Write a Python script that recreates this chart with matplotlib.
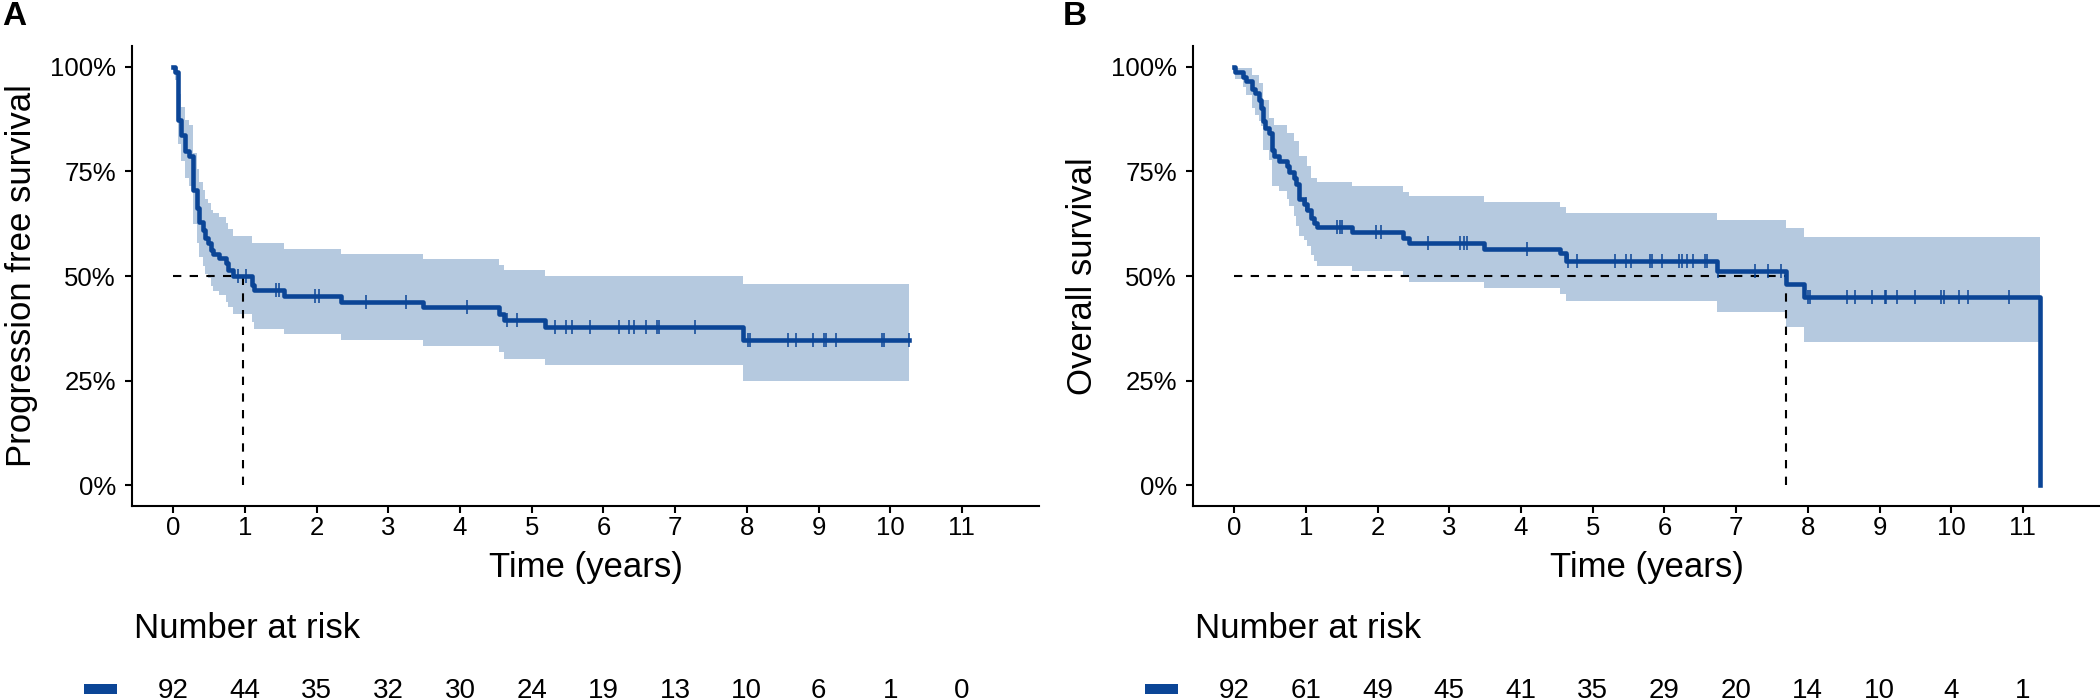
import numpy as np
import matplotlib.pyplot as plt
import matplotlib.transforms as mtransforms
from matplotlib.patches import Rectangle
from matplotlib.ticker import PercentFormatter

plt.rcParams['font.family'] = ['Liberation Sans', 'DejaVu Sans']

BLUE = '#0b4596'
BAND = '#b5c9df'

# Progression free survival: step times (years), survival, 95% CI (%)
pfs_time = [0, 0.02, 0.06, 0.107, 0.167, 0.22, 0.27, 0.33, 0.36, 0.41, 0.45, 0.48, 0.52,
            0.55, 0.64, 0.73, 0.76, 0.84, 1.1, 1.13, 1.54, 2.34, 3.48, 4.55, 4.62, 5.19, 7.95]
pfs_surv = [100, 98.9, 87.4, 83.8, 79.8, 78.6, 70.6, 66.2, 63.0, 61.0, 59.0, 57.8, 56.2,
            55.3, 54.2, 53.0, 51.4, 50.0, 47.8, 46.6, 45.3, 43.8, 42.5, 41.0, 39.4, 37.8, 34.6]
pfs_upper = [100, 100, 93.5, 90.5, 87.4, 86.0, 79.5, 75.5, 72.5, 70.5, 68.5, 67.4, 65.8,
             65.0, 64.0, 62.6, 61.2, 59.5, 57.8, 57.8, 56.4, 55.2, 54.0, 52.6, 51.4, 50.0, 48.0]
pfs_lower = [100, 96.8, 81.5, 77.5, 73.5, 71.5, 62.5, 58.0, 54.5, 52.5, 50.5, 49.5, 47.5,
             46.5, 45.5, 43.8, 42.5, 41.0, 39.0, 37.4, 36.1, 34.6, 33.2, 31.8, 30.2, 28.8, 25.0]
pfs_end = 10.26
pfs_censor = [0.91, 1.01, 1.43, 1.48, 1.98, 2.04, 2.69, 3.25, 4.10, 4.66, 4.80, 5.33, 5.48,
              5.56, 5.81, 6.22, 6.35, 6.42, 6.59, 6.75, 6.78, 7.28, 8.02, 8.05, 8.57, 8.68,
              8.92, 9.08, 9.11, 9.25, 9.88, 9.91, 10.26]
pfs_median = 0.98
pfs_at_risk = [92, 44, 35, 32, 30, 24, 19, 13, 10, 6, 1, 0]

# Overall survival
os_time = [0, 0.014, 0.116, 0.163, 0.247, 0.293, 0.34, 0.372, 0.405, 0.433, 0.49, 0.526,
           0.558, 0.619, 0.73, 0.767, 0.828, 0.86, 0.898, 0.977, 1.02, 1.07, 1.116, 1.149,
           1.64, 2.36, 2.44, 3.49, 4.54, 4.63, 6.73, 7.69, 7.94]
os_surv = [100, 98.9, 97.7, 96.7, 94.7, 93.7, 92.1, 90.1, 87.0, 85.4, 84.2, 80.2,
           78.6, 77.4, 76.2, 74.8, 73.4, 71.9, 68.3, 67.1, 65.9, 63.9, 62.7, 61.7,
           60.5, 59.1, 57.9, 56.5, 55.4, 53.6, 51.3, 48.0, 45.0]
os_upper = [100, 99.7, 99.7, 99.7, 98.1, 98.1, 96.1, 96.1, 92.1, 92.1, 87.8, 87.8,
            86.2, 86.2, 84.2, 84.2, 82.2, 82.2, 78.6, 78.6, 76.2, 73.4, 73.4, 72.4,
            71.5, 70.0, 69.1, 67.8, 66.5, 65.1, 63.4, 61.4, 59.4]
os_lower = [100, 97.1, 95.3, 93.3, 90.1, 88.5, 87.0, 85.8, 80.2, 80.2, 77.8, 71.5,
            71.5, 70.3, 68.5, 66.7, 64.3, 62.0, 59.5, 58.5, 57.2, 55.0, 53.5, 52.5,
            51.2, 49.8, 48.6, 47.2, 45.6, 44.0, 41.3, 37.7, 34.3]
os_end = 11.24
os_censor = [1.0, 1.43, 1.47, 1.50, 1.98, 2.05, 2.70, 3.15, 3.20, 3.24, 4.09, 4.66, 4.78,
             5.31, 5.46, 5.54, 5.80, 5.83, 5.96, 6.21, 6.25, 6.32, 6.40, 6.57, 6.60, 6.75,
             7.27, 7.45, 7.62, 8.00, 8.03, 8.55, 8.66, 8.90, 9.07, 9.09, 9.24, 9.49, 9.86,
             9.90, 10.11, 10.24, 10.81]
os_median = 7.69
os_at_risk = [92, 61, 49, 45, 41, 35, 29, 20, 14, 10, 4, 1]

risk_times = list(range(12))


def draw_km(ax, times, surv, upper, lower, end, censor, median, drop_to_zero):
    x = times + [end]
    ax.fill_between(x, upper + [upper[-1]], lower + [lower[-1]], step='post',
                    color=BAND, lw=0, zorder=1)
    y = surv + [surv[-1]]
    if drop_to_zero:
        x = x + [end]
        y = y + [0]
    ax.plot([0, median], [50, 50], color='black', lw=1.5, ls=(0, (4, 4)), zorder=2)
    ax.plot([median, median], [0, 50], color='black', lw=1.5, ls=(0, (4, 4)), zorder=2)
    ax.step(x, y, where='post', color=BLUE, lw=3.3, zorder=3)
    idx = np.searchsorted(times, censor, side='right') - 1
    ax.plot(censor, np.array(surv)[idx], ls='none', marker='|', ms=10, mew=1.1,
            color=BLUE, zorder=4)


fig = plt.figure(figsize=(21, 7), dpi=100)

panels = [
    ('A', 'Progression free survival', 132, pfs_time, pfs_surv, pfs_upper, pfs_lower,
     pfs_end, pfs_censor, pfs_median, False, pfs_at_risk),
    ('B', 'Overall survival', 1193, os_time, os_surv, os_upper, os_lower,
     os_end, os_censor, os_median, True, os_at_risk),
]

for tag, ylabel, left_px, t, s, up, lo, end, cens, med, drop, at_risk in panels:
    ax = fig.add_axes([left_px / 2100, 1 - 506 / 700, 907 / 2100, 460 / 700])
    draw_km(ax, t, s, up, lo, end, cens, med, drop)

    ax.set_xlim(-0.575, 12.075)
    ax.set_ylim(-5, 105)
    ax.set_xticks(risk_times)
    ax.set_yticks([0, 25, 50, 75, 100])
    ax.yaxis.set_major_formatter(PercentFormatter(100, decimals=0))
    for side in ['top', 'right']:
        ax.spines[side].set_visible(False)
    for side in ['left', 'bottom']:
        ax.spines[side].set_linewidth(1.5)
    ax.tick_params(length=5, width=1.5, labelsize=18.5)
    ax.tick_params(axis='x', pad=2.5)
    ax.tick_params(axis='y', pad=6.5)

    ax.set_xlabel('Time (years)', fontsize=25, va='center')
    ax.xaxis.set_label_coords(0.5, -(567 - 506) / 460)
    ax.set_ylabel(ylabel, fontsize=25, va='center')
    ax.yaxis.set_label_coords(-110 / 907, 0.5)

    fig.text((left_px - 130) / 2100, 1 - 1 / 700, tag, fontsize=24, fontweight='bold',
             ha='left', va='top')

    # number at risk table
    trans = mtransforms.blended_transform_factory(ax.transData, fig.transFigure)
    for tt, n in zip(risk_times, at_risk):
        ax.text(tt, 1 - 698 / 700, str(n), transform=trans, ha='center', va='baseline',
                fontsize=20, clip_on=False)
    tr2 = mtransforms.blended_transform_factory(ax.transAxes, fig.transFigure)
    ax.text(0.002, 1 - 638 / 700, 'Number at risk', transform=tr2, ha='left',
            va='baseline', fontsize=25)
    fig.add_artist(Rectangle(((left_px - 48) / 2100, 1 - 694 / 700), 33 / 2100, 10 / 700,
                             transform=fig.transFigure, color=BLUE, lw=0))

fig.savefig('out.png', dpi=100)
